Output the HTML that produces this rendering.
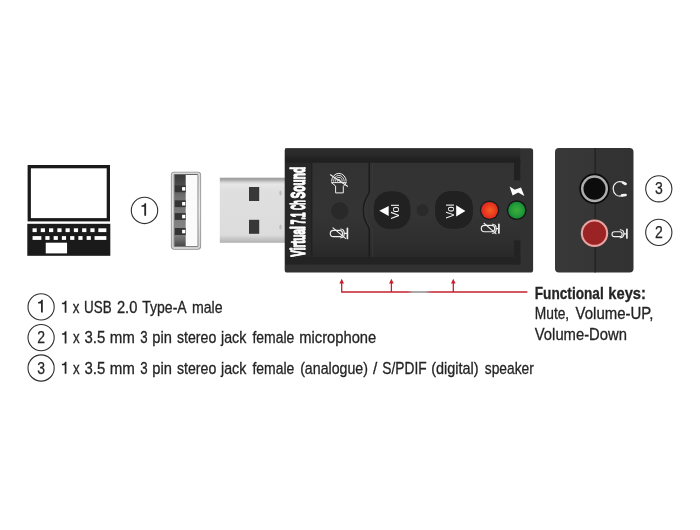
<!DOCTYPE html>
<html>
<head>
<meta charset="utf-8">
<title>USB Sound Adapter</title>
<style>
html,body{margin:0;padding:0;background:#fff;}
body{width:700px;height:530px;overflow:hidden;font-family:"Liberation Sans",sans-serif;}
svg{display:block;will-change:transform;}
text{font-family:"Liberation Sans",sans-serif;}
</style>
</head>
<body>
<svg width="700" height="530" viewBox="0 0 700 530">
<defs>
  <linearGradient id="gUsbOuter" x1="0" y1="0" x2="0" y2="1">
    <stop offset="0" stop-color="#d8d8d8"/>
    <stop offset="0.5" stop-color="#e9e9e9"/>
    <stop offset="1" stop-color="#cfcfcf"/>
  </linearGradient>
  <linearGradient id="gUsbDark" x1="0" y1="0" x2="0" y2="1">
    <stop offset="0" stop-color="#3a3a3a"/>
    <stop offset="0.14" stop-color="#4c4c4c"/>
    <stop offset="0.3" stop-color="#707070"/>
    <stop offset="0.8" stop-color="#868686"/>
    <stop offset="0.9" stop-color="#6c6c6c"/>
    <stop offset="1" stop-color="#474747"/>
  </linearGradient>
  <linearGradient id="gPlug" x1="0" y1="0" x2="0" y2="1">
    <stop offset="0" stop-color="#9c9c9c"/>
    <stop offset="0.035" stop-color="#ababab"/>
    <stop offset="0.07" stop-color="#d4d4d4"/>
    <stop offset="0.1" stop-color="#e6e6e6"/>
    <stop offset="0.2" stop-color="#dfdfdf"/>
    <stop offset="0.88" stop-color="#dcdcdc"/>
    <stop offset="0.94" stop-color="#c6c6c6"/>
    <stop offset="1" stop-color="#b2b2b2"/>
  </linearGradient>
  <radialGradient id="gRed" cx="0.55" cy="0.5" r="0.6">
    <stop offset="0" stop-color="#f2601f"/>
    <stop offset="0.6" stop-color="#e8361f"/>
    <stop offset="1" stop-color="#d3202a"/>
  </radialGradient>
  <radialGradient id="gGreen" cx="0.5" cy="0.5" r="0.6">
    <stop offset="0" stop-color="#3fae3a"/>
    <stop offset="0.6" stop-color="#219a3a"/>
    <stop offset="1" stop-color="#0d7a30"/>
  </radialGradient>
  <linearGradient id="gPanel" x1="0" y1="0" x2="0" y2="1">
    <stop offset="0" stop-color="#323232"/>
    <stop offset="0.55" stop-color="#343434"/>
    <stop offset="0.85" stop-color="#2e2e2e"/>
    <stop offset="1" stop-color="#292929"/>
  </linearGradient>
  <linearGradient id="gLine" gradientUnits="userSpaceOnUse" x1="341" y1="0" x2="528" y2="0">
    <stop offset="0" stop-color="#c4202d"/>
    <stop offset="0.355" stop-color="#c4202d"/>
    <stop offset="0.385" stop-color="#8e8e8e"/>
    <stop offset="0.45" stop-color="#8e8e8e"/>
    <stop offset="0.485" stop-color="#c4202d"/>
    <stop offset="1" stop-color="#c4202d"/>
  </linearGradient>
  <linearGradient id="gTop" x1="0" y1="0" x2="0" y2="1">
    <stop offset="0" stop-color="#2d2d2d"/>
    <stop offset="0.4" stop-color="#2a2a2a"/>
    <stop offset="0.7" stop-color="#212121"/>
    <stop offset="1" stop-color="#1f1f1f"/>
  </linearGradient>
  <linearGradient id="gJack" x1="0" y1="0" x2="1" y2="0">
    <stop offset="0" stop-color="#383838"/>
    <stop offset="0.5" stop-color="#363636"/>
    <stop offset="0.52" stop-color="#333"/>
    <stop offset="1" stop-color="#323232"/>
  </linearGradient>
</defs>

<!-- ===== Laptop icon ===== -->
<g id="laptop">
  <rect x="27.6" y="165" width="82.4" height="56.4" fill="#1a1a1a"/>
  <rect x="30.9" y="168.3" width="75.8" height="49.8" fill="#fff"/>
  <rect x="27.3" y="223.8" width="83" height="32" fill="#1a1a1a"/>
  <g fill="#fff" transform="translate(0.35 0.1)">
    <rect x="32.2" y="228.2" width="4.2" height="3.8"/>
    <rect x="40.4" y="228.2" width="4.2" height="3.8"/>
    <rect x="48.7" y="228.2" width="4.2" height="3.8"/>
    <rect x="57" y="228.2" width="4.2" height="3.8"/>
    <rect x="65.2" y="228.2" width="4.2" height="3.8"/>
    <rect x="73.5" y="228.2" width="4.2" height="3.8"/>
    <rect x="81.8" y="228.2" width="4.2" height="3.8"/>
    <rect x="90" y="228.2" width="4.2" height="3.8"/>
    <rect x="98" y="228.2" width="8" height="3.8"/>
    <rect x="32.2" y="236" width="8.8" height="3.8"/>
    <rect x="45" y="236" width="4.2" height="3.8"/>
    <rect x="53.3" y="236" width="4.2" height="3.8"/>
    <rect x="61.5" y="236" width="4.2" height="3.8"/>
    <rect x="69.8" y="236" width="4.2" height="3.8"/>
    <rect x="78" y="236" width="4.2" height="3.8"/>
    <rect x="86.3" y="236" width="4.2" height="3.8"/>
    <rect x="94.2" y="236" width="11.8" height="3.8"/>
    <rect x="45.4" y="242.6" width="21.3" height="10.7"/>
  </g>
</g>

<!-- ===== circled numbers near devices ===== -->
<g fill="none" stroke="#2e2e2e" stroke-width="1.1">
  <circle cx="144.5" cy="210.4" r="13.2"/>
  <circle cx="658.8" cy="188.8" r="13.1"/>
  <circle cx="658.8" cy="232.4" r="13.1"/>
  <circle cx="41.1" cy="306.9" r="13.1"/>
  <circle cx="41.1" cy="337.6" r="13.1"/>
  <circle cx="41.1" cy="368" r="13.1"/>
</g>
<g fill="#262626" font-size="17" text-anchor="middle" stroke="#262626" stroke-width="0.25">
  <text x="658.8" y="194.3" textLength="7.8" lengthAdjust="spacingAndGlyphs">3</text>
  <text x="658.8" y="237.9" textLength="7.8" lengthAdjust="spacingAndGlyphs">2</text>
  <text x="41.1" y="343.1" textLength="7.8" lengthAdjust="spacingAndGlyphs">2</text>
  <text x="41.1" y="373.5" textLength="7.8" lengthAdjust="spacingAndGlyphs">3</text>
</g>
<g fill="#262626">
  <path transform="translate(144.5 210.4)" d="M-3.1 -5 C-0.9 -5 0 -5.9 0.1 -7.2 H1.6 V5.4 H-0.2 V-3.6 H-3.1 Z"/>
  <path transform="translate(41.2 307)" d="M-3.1 -5 C-0.9 -5 0 -5.9 0.1 -7.2 H1.6 V5.4 H-0.2 V-3.6 H-3.1 Z"/>
</g>

<!-- ===== USB-A front view ===== -->
<g id="usbfront">
  <rect x="170.9" y="171.7" width="30.2" height="78" rx="3.4" ry="3.4" fill="#8e8e8e"/>
  <rect x="171.7" y="172.5" width="28.6" height="76.4" rx="2.8" ry="2.8" fill="url(#gUsbOuter)"/>
  <rect x="173.7" y="174.1" width="24.6" height="73" rx="1.4" ry="1.4" fill="#666"/>
  <rect x="174.8" y="175" width="22.8" height="71.2" fill="#fafafa"/>
  <rect x="174.8" y="175" width="10.9" height="71.2" fill="url(#gUsbDark)"/>
  <g fill="#343434">
    <rect x="174.8" y="185.4" width="10.9" height="6.8"/>
    <rect x="174.8" y="200.3" width="10.9" height="6.8"/>
    <rect x="174.8" y="213.1" width="10.9" height="6.8"/>
    <rect x="174.8" y="228" width="10.9" height="7"/>
  </g>
  <g fill="#fff">
    <rect x="182.1" y="187.1" width="3.2" height="3.5"/>
    <rect x="182.1" y="202" width="3.2" height="3.5"/>
    <rect x="182.1" y="214.8" width="3.2" height="3.5"/>
    <rect x="182.1" y="229.8" width="3.2" height="3.5"/>
  </g>
</g>

<!-- ===== USB plug (side) ===== -->
<g id="plug">
  <rect x="219.8" y="177.7" width="66" height="65.1" fill="url(#gPlug)"/>
  <rect x="249" y="187" width="10.2" height="14" fill="#383838"/>
  <rect x="249" y="219.8" width="10.2" height="14" fill="#383838"/>
  <ellipse cx="280.5" cy="193" rx="1.2" ry="2.6" fill="#bcbcbc"/>
  <ellipse cx="280.5" cy="227" rx="1.2" ry="2.6" fill="#bcbcbc"/>
</g>

<!-- ===== Main body ===== -->
<g id="body">
  <rect x="284.7" y="148.2" width="248.4" height="124.4" rx="2.6" ry="2.6" fill="#313131"/>
  <rect x="285" y="148.4" width="235.3" height="15" fill="url(#gTop)"/>
  <!-- top dark band -->
  
  <!-- bottom dark band -->
  <rect x="285.4" y="256.5" width="234.9" height="8" fill="#232323"/>
  <!-- text area -->
  <rect x="285.2" y="162.6" width="26" height="94" fill="#272727"/>
  <!-- panels -->
  <rect x="311.8" y="162.8" width="57" height="93.8" fill="url(#gPanel)"/>
  <rect x="369.4" y="162.8" width="151" height="93.8" fill="url(#gPanel)"/>
  <!-- right notches -->
  <rect x="514" y="160" width="6.3" height="20.3" fill="#212121"/>
  <rect x="514" y="240.4" width="6.3" height="24" fill="#232323"/>
  <!-- panel edge lines -->
  <line x1="311.8" y1="163" x2="311.8" y2="256.5" stroke="#1c1c1c" stroke-width="1"/>
  <path d="M372.6 163 V188 Q372.6 191 371 193 A27 27 0 0 0 371 227.8 Q372.6 229.8 372.6 232.8 V256.5" fill="none" stroke="#3a3a3a" stroke-width="0.8"/>
  <path d="M369.3 163 V190.5 Q369.3 193 367.9 195 A28.3 28.3 0 0 0 367.9 225.8 Q369.3 227.8 369.3 230.3 V256.5" fill="none" stroke="#1b1b1b" stroke-width="1.4"/>

  <!-- label text -->
  <g font-size="20.4" font-weight="bold" fill="#fff" stroke="#fff" stroke-width="1.1" stroke-linejoin="round" style="vector-effect:non-scaling-stroke">
  <text vector-effect="non-scaling-stroke" transform="translate(304.7 256.70) rotate(-90) scale(0.4838 1)">Virtual</text>
  <text vector-effect="non-scaling-stroke" transform="translate(304.7 224.20) rotate(-90) scale(0.4142 1)">7.1</text>
  <text vector-effect="non-scaling-stroke" transform="translate(304.7 210.10) rotate(-90) scale(0.3592 1)">Ch</text>
  <text vector-effect="non-scaling-stroke" transform="translate(304.7 198.50) rotate(-90) scale(0.5003 1)">Sound</text>
  </g>

  <!-- mic hole -->
  <circle cx="339.7" cy="210.8" r="8.6" fill="#292929"/>
  <!-- small center circle -->
  <circle cx="422.6" cy="210.2" r="6.6" fill="#2a2a2a" stroke="#393939" stroke-width="0.7"/>

  <!-- Vol buttons -->
  <rect x="373.2" y="190.8" width="37.8" height="39" rx="16.2" ry="16.2" fill="#212121" stroke="#383838" stroke-width="0.8"/>
  <rect x="434.5" y="190.4" width="39" height="39" rx="16.2" ry="16.2" fill="#212121" stroke="#383838" stroke-width="0.8"/>
  <polygon points="379.3,210.8 388.7,206.1 388.7,216" fill="#fff"/>
  <text transform="translate(399.2 219) rotate(-90)" font-size="10.5" fill="#fff" textLength="15" lengthAdjust="spacingAndGlyphs">Vol</text>
  <polygon points="465.4,211 456.2,205.3 456.2,216.6" fill="#fff"/>
  <text transform="translate(454 218.4) rotate(-90)" font-size="10.5" fill="#fff" textLength="14.4" lengthAdjust="spacingAndGlyphs">Vol</text>

  <!-- LEDs -->
  <circle cx="489.5" cy="210.3" r="9.7" fill="#1b1b1b"/>
  <circle cx="489.5" cy="210.3" r="8.4" fill="url(#gRed)"/>
  <circle cx="516.7" cy="210.2" r="9.9" fill="#151515"/>
  <circle cx="516.7" cy="210.2" r="8.5" fill="url(#gGreen)"/>

  <!-- lightning -->
  <polygon points="509.6,186.6 514.8,189.8 521,187.4 524.4,196 518.2,192.6 512.6,195.4" fill="#fff"/>

  <!-- speaker mute icon -->
  <g fill="none" stroke="#efefef" stroke-width="1" stroke-linejoin="round" stroke-linecap="round">
    <path d="M331.8 182.6 H346.4 L343.3 186.4 V192.9 H335.6 V186.4 Z"/>
    <path d="M331.6 181.2 A7.3 7.8 0 0 1 346.2 181.2" />
    <path d="M333.6 181.2 A5.3 5.8 0 0 1 344.2 181.2" stroke-width="0.85"/>
    <path d="M335.6 181.2 A3.3 3.8 0 0 1 342.2 181.2" stroke-width="0.85"/>
    <path d="M337.5 181.2 A1.4 1.9 0 0 1 340.3 181.2" stroke-width="0.85"/>
    <path d="M330.4 174.8 L347.5 186.2" stroke-width="1.1"/>
  </g>

  <!-- mic mute icon left -->
  <g fill="none" stroke="#efefef" stroke-width="1.15" stroke-linejoin="round" stroke-linecap="round">
    <rect x="330.3" y="230.3" width="12.2" height="6.3" rx="3.15" ry="3.15"/>
    <path d="M340.7 229 C345.4 229.2 345.4 237.6 340.7 237.8"/>
    <path d="M344.3 233.4 H347"/>
    <path d="M347.4 228.4 V238.4" stroke-width="1.7"/>
    <path d="M333 227.9 L345.5 238.4"/>
  </g>

  <!-- mic mute icon under red led -->
  <g fill="none" stroke="#efefef" stroke-width="1.15" stroke-linejoin="round" stroke-linecap="round">
    <rect x="481.3" y="225.4" width="13.4" height="6.3" rx="3.15" ry="3.15"/>
    <path d="M492.6 224.2 C497.4 224.4 497.4 233 492.6 233.2"/>
    <path d="M496.2 228.6 H498.4"/>
    <path d="M498.9 224.4 V233" stroke-width="1.7"/>
    <path d="M484 223.3 L496 233.6"/>
  </g>
</g>

<!-- ===== Jack side view ===== -->
<g id="jacks">
  <rect x="555" y="148" width="78.5" height="124.6" rx="4" ry="4" fill="url(#gJack)"/>
  <line x1="595.1" y1="148" x2="595.1" y2="272.6" stroke="#1c1c1c" stroke-width="1"/>
  <circle cx="594.5" cy="188.8" r="15.2" fill="#0a0a0a"/>
  <circle cx="594.5" cy="188.8" r="13.5" fill="#adadad"/>
  <circle cx="594.5" cy="188.8" r="11" fill="#0c0c0c"/>
  <circle cx="594.5" cy="233.2" r="13.7" fill="#eaa3a3"/>
  <circle cx="594.5" cy="233.2" r="11.6" fill="#9c2323"/>
  <!-- headphone icon -->
  <g fill="none" stroke="#f2f2f2" stroke-width="1.2" stroke-linecap="round">
    <path d="M624.2 182.8 C616.5 179.4 613 185 613.2 189 C613.4 193.5 617 198 623.6 195.4"/>
    <path d="M623 182.6 L625.6 184" stroke-width="2.6"/>
    <path d="M622 195.4 L625.6 195" stroke-width="2.6"/>
  </g>
  <!-- mic icon -->
  <g fill="none" stroke="#f2f2f2" stroke-width="1.1" stroke-linejoin="round" stroke-linecap="round">
    <rect x="612" y="231.8" width="10.2" height="4.8" rx="2.4" ry="2.4"/>
    <path d="M620.2 229.8 C625.2 230.2 625.2 237.4 620.2 237.8"/>
    <path d="M624 233.9 H626.2"/>
    <path d="M626.9 229.4 V238" stroke-width="1.7"/>
  </g>
</g>

<!-- ===== Red callout ===== -->
<g id="callout" fill="none">
  <path d="M341.7 282 V292 H527.4" stroke="url(#gLine)" stroke-width="1.3"/>
  <path d="M391.4 282 V292" stroke="#c4202d" stroke-width="1.3"/>
  <path d="M453.3 282 V292" stroke="#c4202d" stroke-width="1.3"/>
  <g fill="#c4202d" stroke="none">
    <polygon points="341.7,278.8 344,283.6 339.4,283.6"/>
    <polygon points="391.4,278.8 393.7,283.6 389.1,283.6"/>
    <polygon points="453.3,278.8 455.6,283.6 451,283.6"/>
  </g>
</g>

<!-- ===== Text ===== -->
<g fill="#242424" font-size="16.6" stroke="#242424" stroke-width="0.3">
  <path transform="translate(64.9 307.62) scale(0.96)" d="M-3.1 -5 C-0.9 -5 0 -5.9 0.1 -7.2 H1.6 V5.4 H-0.2 V-3.6 H-3.1 Z" stroke="none"/>
  <path transform="translate(64.9 338.22) scale(0.96)" d="M-3.1 -5 C-0.9 -5 0 -5.9 0.1 -7.2 H1.6 V5.4 H-0.2 V-3.6 H-3.1 Z" stroke="none"/>
  <path transform="translate(64.9 368.62) scale(0.96)" d="M-3.1 -5 C-0.9 -5 0 -5.9 0.1 -7.2 H1.6 V5.4 H-0.2 V-3.6 H-3.1 Z" stroke="none"/>
  <text transform="translate(72.85 312.8) scale(0.8000 1)">x</text>
  <text transform="translate(84.09 312.8) scale(0.8078 1)">USB</text>
  <text transform="translate(116.90 312.8) scale(0.8845 1)">2.0</text>
  <text transform="translate(142.20 312.8) scale(0.8467 1)">Type-A</text>
  <text transform="translate(191.95 312.8) scale(0.8521 1)">male</text>
  <text transform="translate(72.90 343.4) scale(0.8000 1)">x</text>
  <text transform="translate(84.50 343.4) scale(0.9020 1)">3.5</text>
  <text transform="translate(109.79 343.4) scale(0.9101 1)">mm</text>
  <text transform="translate(140.20 343.4) scale(0.8000 1)">3</text>
  <text transform="translate(152.22 343.4) scale(0.8845 1)">pin</text>
  <text transform="translate(177.00 343.4) scale(0.8520 1)">stereo</text>
  <text transform="translate(221.06 343.4) scale(0.8554 1)">jack</text>
  <text transform="translate(252.40 343.4) scale(0.8411 1)">female</text>
  <text transform="translate(299.21 343.4) scale(0.8891 1)">microphone</text>
  <text transform="translate(72.90 373.8) scale(0.8000 1)">x</text>
  <text transform="translate(84.50 373.8) scale(0.9020 1)">3.5</text>
  <text transform="translate(109.79 373.8) scale(0.9101 1)">mm</text>
  <text transform="translate(140.20 373.8) scale(0.8000 1)">3</text>
  <text transform="translate(152.22 373.8) scale(0.8845 1)">pin</text>
  <text transform="translate(177.00 373.8) scale(0.8520 1)">stereo</text>
  <text transform="translate(221.06 373.8) scale(0.8554 1)">jack</text>
  <text transform="translate(252.40 373.8) scale(0.8411 1)">female</text>
  <text transform="translate(300.15 373.8) scale(0.8546 1)">(analogue)</text>
  <text transform="translate(373.10 373.8) scale(0.9200 1)">/</text>
  <text transform="translate(382.30 373.8) scale(0.8286 1)">S/PDIF</text>
  <text transform="translate(431.23 373.8) scale(0.8718 1)">(digital)</text>
  <text transform="translate(484.80 373.8) scale(0.8301 1)">speaker</text>
  <text transform="translate(534.78 298.6) scale(0.8216 1)" font-weight="bold">Functional</text>
  <text transform="translate(608.31 298.6) scale(0.8869 1)" font-weight="bold">keys:</text>
  <text transform="translate(534.75 319.0) scale(0.8300 1)">Mute,</text>
  <text transform="translate(575.60 319.0) scale(0.9023 1)">Volume-UP,</text>
  <text transform="translate(534.80 339.5) scale(0.8926 1)">Volume-Down</text>
</g>
</svg>
</body>
</html>
